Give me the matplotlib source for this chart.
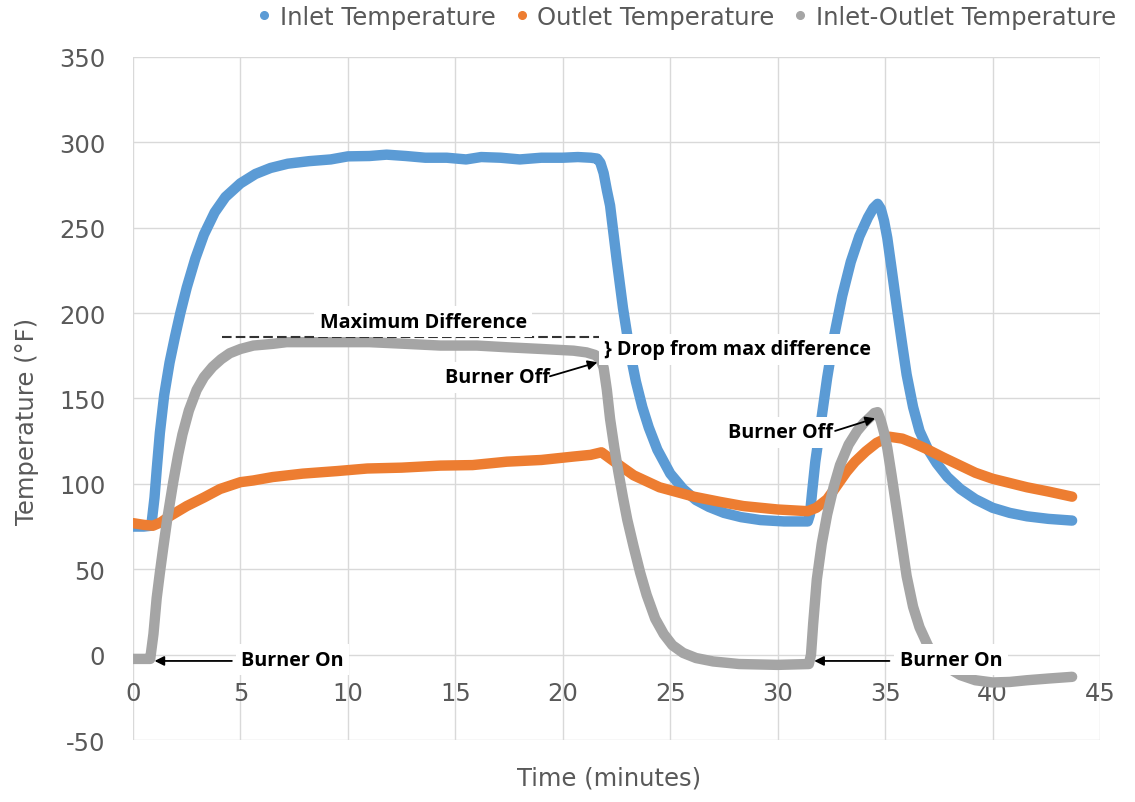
import matplotlib.pyplot as plt
from matplotlib.lines import Line2D

plt.rcParams['axes.unicode_minus'] = False

# Inlet temperature (deg F) against time (minutes)
inlet_t = [0, 0.5, 0.85, 1.0, 1.1, 1.25, 1.45, 1.7, 1.95, 2.2, 2.5, 2.9, 3.3, 3.8, 4.3,
           5.0, 5.7, 6.4, 7.2, 8.2, 9.2, 10.0, 11.0, 11.8, 12.7, 13.6, 14.6, 15.5,
           16.2, 17.1, 18.0, 19.0, 20.0, 20.7, 21.3, 21.6, 21.75, 21.9, 22.05, 22.2,
           22.5, 22.8, 23.1, 23.4, 23.7, 24.0, 24.4, 25.0, 25.6, 26.2, 26.8, 27.5,
           28.3, 29.2, 30.3, 31.4, 31.5, 31.6, 31.75, 32.0, 32.3, 32.6, 33.0, 33.4,
           33.8, 34.2, 34.45, 34.65, 34.8, 34.95, 35.1, 35.3, 35.55, 35.8, 36.0, 36.3,
           36.6, 37.0, 37.4, 37.9, 38.5, 39.2, 40.0, 40.8, 41.6, 42.6, 43.7]
inlet_temp = [75, 75, 75.5, 92, 108, 130, 152, 171, 186, 200, 215, 232, 246, 259, 268,
              276, 281.5, 285, 287.5, 289, 290, 291.8, 292, 292.8, 292, 291, 291, 290,
              291.4, 291, 290, 291, 291, 291.4, 291, 290.5, 288, 282, 272, 263,
              232, 203, 179, 160, 145, 133, 120, 106, 97, 90.5, 86.5, 83,
              80.5, 78.8, 78, 78, 82, 95, 113, 135, 162, 185, 210, 230,
              245, 256, 261.5, 264, 261, 254, 244, 226, 203, 181, 164, 145,
              131, 120, 112, 104, 97, 91, 86, 83, 81, 79.5, 78.5]

# Outlet temperature
outlet_t = [0, 0.5, 0.93, 1.3, 1.7, 2.1, 2.5, 3.3, 4.05, 5.0, 5.6, 6.5, 7.9, 9.5, 10.9,
            12.5, 14.3, 15.8, 17.4, 19.0, 20.5, 21.3, 21.8, 22.4, 23.3, 24.5, 26.1,
            27.3, 28.4, 30.0, 31.4, 31.8, 32.3, 32.7, 33.2, 33.6, 34.1, 34.6, 35.2,
            35.8, 36.3, 36.9, 37.7, 38.5, 39.2, 40.0, 41.6, 42.6, 43.7]
outlet_temp = [77, 76, 75.5, 77.5, 81, 84, 87, 92, 97, 101, 102, 104, 106, 107.5, 109,
               109.5, 110.7, 111, 113, 114, 116, 117, 118.5, 113, 105, 98, 92.5,
               89.5, 87, 85, 84, 86, 91, 98, 107, 113, 119, 124, 127.6,
               126.5, 124, 120.6, 115.5, 110.7, 106.5, 103, 98, 95.5, 92.5]

# Inlet minus outlet
diff_t = [0, 0.5, 0.8, 0.95, 1.1, 1.25, 1.4, 1.6, 1.87, 2.1, 2.3, 2.6, 2.96, 3.3, 3.7,
          4.1, 4.5, 5.0, 5.6, 6.5, 7.15, 8.5, 9.6, 11.0, 12.7, 14.3, 16.0, 17.4, 19.0,
          20.5, 21.1, 21.5, 21.75, 21.9, 22.05, 22.2, 22.4, 22.6, 22.8, 23.0, 23.3,
          23.6, 23.9, 24.3, 24.7, 25.1, 25.6, 26.2, 27.0, 28.2, 30.0, 31.45, 31.55,
          31.65, 31.82, 32.05, 32.3, 32.6, 32.9, 33.3, 33.7, 34.0, 34.3, 34.5, 34.65,
          34.8, 34.95, 35.1, 35.3, 35.55, 35.8, 36.0, 36.3, 36.6, 37.0, 37.4, 37.9,
          38.5, 39.2, 40.0, 40.8, 41.6, 42.6, 43.7]
diff_temp = [-2.5, -2.5, -2.5, 12, 33, 48, 62, 80, 101, 117, 129, 143, 155, 162.5, 168.5,
             173, 176.5, 179, 181, 182, 183, 183, 183, 183, 182, 181, 181, 180, 179,
             178, 177, 175.5, 173, 168, 155, 138, 121, 106, 92, 79, 63,
             48, 35, 21, 12, 5.5, 1, -2, -4, -5.5, -6, -5.5, 0,
             18, 44, 65, 82, 98, 111, 123, 131, 135.5, 139, 141.5, 142,
             137, 130, 121, 105, 84, 63, 46, 28, 16, 5, -1.5, -7.5,
             -12, -15, -16.3, -16, -15, -14, -13]

max_diff = 186
series_names = ['Inlet Temperature', 'Outlet Temperature', 'Inlet-Outlet Temperature']
colors = ['#5B9BD5', '#ED7D31', '#A5A5A5']
x_ticks = list(range(0, 46, 5))
y_ticks = list(range(-50, 351, 50))

axis_grey = '#595959'
label_font = 'DejaVu Sans'
note_font = 'Open Sans'

fig = plt.figure(figsize=(11.35, 8.03), dpi=100)
ax = fig.add_axes([0.1172, 0.0772, 0.852, 0.8506])

for t, v, c, z in [(inlet_t, inlet_temp, colors[0], 3),
                   (outlet_t, outlet_temp, colors[1], 4),
                   (diff_t, diff_temp, colors[2], 5)]:
    ax.plot(t, v, color=c, lw=7.5, solid_capstyle='round', solid_joinstyle='round', zorder=z)

ax.set_xlim(0, 45)
ax.set_ylim(-50, 350)
ax.set_xticks(x_ticks)
ax.set_yticks(y_ticks)
ax.grid(True, color='#d9d9d9', lw=1)
ax.set_axisbelow(True)
for s in ax.spines.values():
    s.set_visible(False)
ax.spines['bottom'].set_position(('data', 0))
ax.tick_params(axis='both', length=0, labelsize=17.5, labelcolor=axis_grey)
ax.tick_params(axis='y', pad=20)
ax.tick_params(axis='x', pad=19)
for lab in ax.get_xticklabels() + ax.get_yticklabels():
    lab.set_family(label_font)

ax.set_xlabel('Time (minutes)', fontsize=17.5, color=axis_grey, family=label_font)
ax.set_ylabel('Temperature (°F)', fontsize=17.5, color=axis_grey, family=label_font)
ax.xaxis.set_label_coords(0.492, -0.038)
ax.yaxis.set_label_coords(-0.097, 0.468)

handles = [Line2D([], [], marker='o', ls='none', color=c, markersize=5.5) for c in colors]
leg = ax.legend(handles, series_names, loc='center right', ncol=3, frameon=False,
                bbox_to_anchor=(1116 / 1135, 1 - 18 / 803), bbox_transform=fig.transFigure,
                borderaxespad=0, borderpad=0, handlelength=0.6, handletextpad=0.35,
                columnspacing=0.75, prop={'family': label_font, 'size': 17.5})
for txt in leg.get_texts():
    txt.set_color(axis_grey)

# annotations
box = dict(facecolor='white', edgecolor='none', pad=4)
note = dict(family=note_font, weight='bold', fontsize=14.2, color='black',
            ha='left', va='baseline', bbox=box, zorder=8)
arrow = dict(arrowstyle='-|>', color='black', lw=1.3, shrinkA=0, shrinkB=0,
             mutation_scale=14)

ax.plot([4.15, 21.7], [max_diff, max_diff], color='#333333', lw=1.5,
        dashes=(4.6, 2.0), zorder=6)
ax.text(8.68, 192, 'Maximum Difference', **note)
ax.text(21.92, 176, '} Drop from max difference', **note)

ax.text(14.5, 159.5, 'Burner Off', **note)
ax.annotate('', xy=(21.61, 171.2), xytext=(19.4, 163), arrowprops=arrow, zorder=9)
ax.text(27.71, 127.3, 'Burner Off', **note)
ax.annotate('', xy=(34.53, 138.4), xytext=(32.67, 131), arrowprops=arrow, zorder=9)

ax.text(5.03, -5.8, 'Burner On', **note)
ax.annotate('', xy=(1.0, -3.7), xytext=(4.6, -3.7), arrowprops=arrow, zorder=9)
ax.text(35.68, -5.8, 'Burner On', **note)
ax.annotate('', xy=(31.7, -3.7), xytext=(35.2, -3.7), arrowprops=arrow, zorder=9)

fig.savefig('out.png', dpi=100, facecolor='white')
